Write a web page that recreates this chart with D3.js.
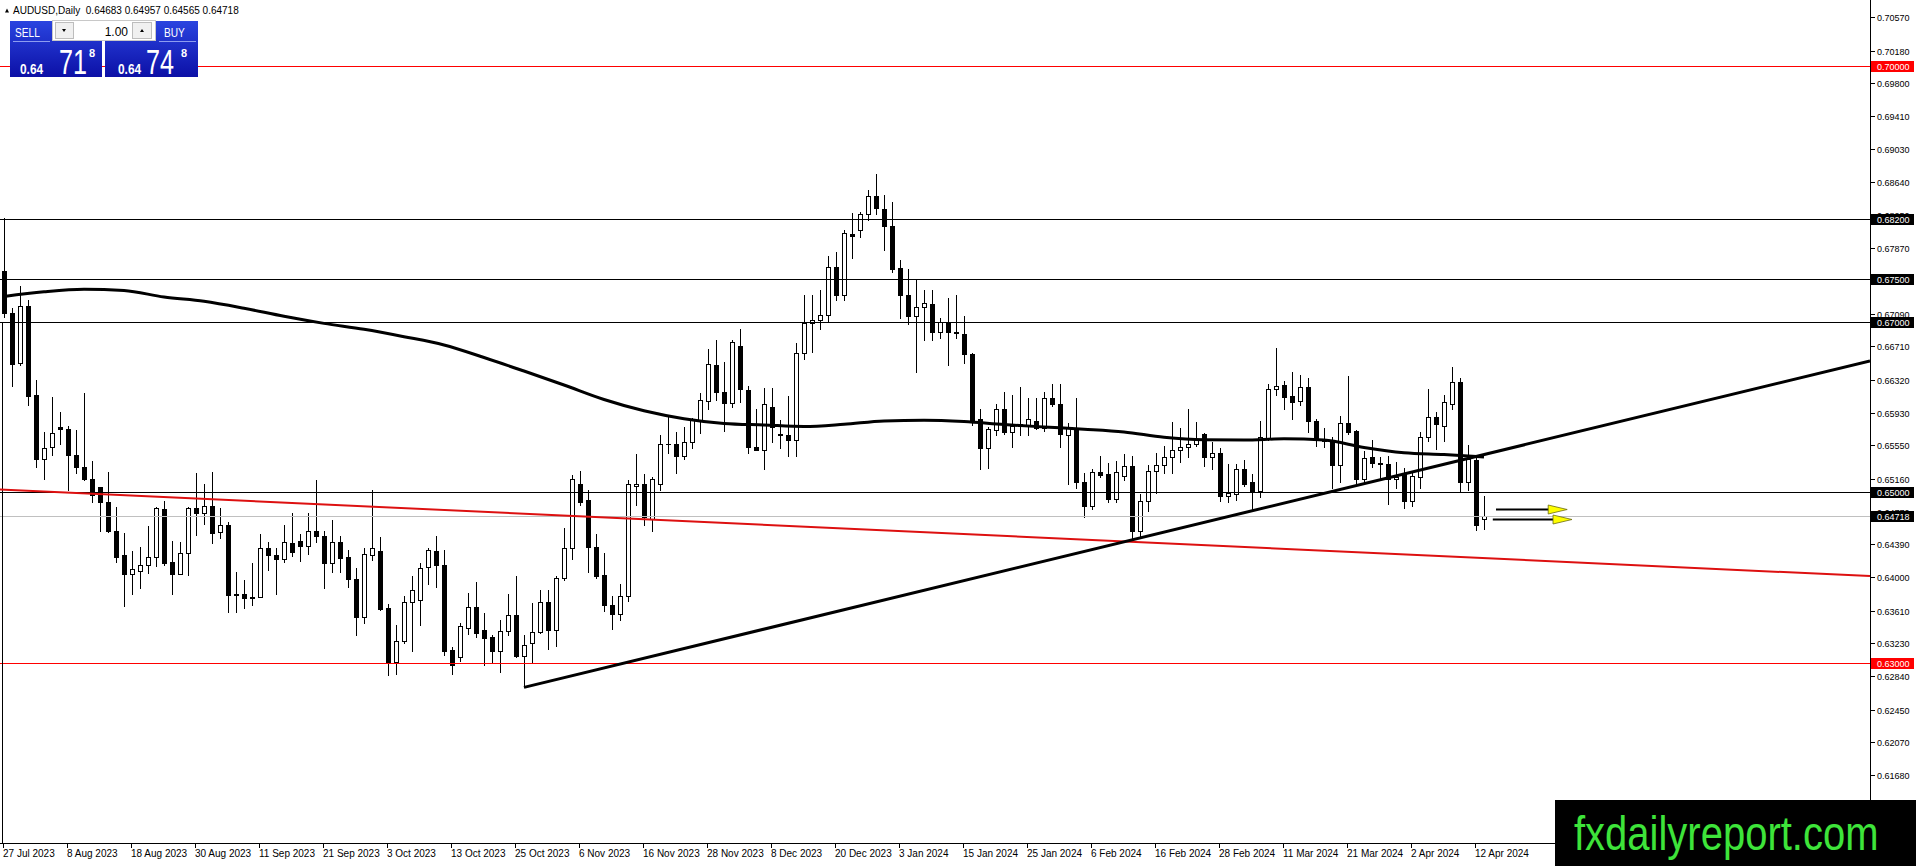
<!DOCTYPE html>
<html>
<head>
<meta charset="utf-8">
<script src="https://cdn.jsdelivr.net/npm/d3@7"></script>
<style>
body { margin: 0; background: #fff; }
svg { display: block; font-family: "Liberation Sans", Arial, sans-serif; }
.axis-text { font-size: 10px; fill: #000; }
.price-text { font-size: 9px; fill: #000; }
.level-text { font-size: 9px; fill: #fff; }
</style>
</head>
<body>
<div id="chart"></div>
<script>
// AUDUSD daily bars, 27 Jul 2023 .. 15 Apr 2024
const opens = [
0.6759,0.6710,0.6652,0.6718,0.6614,0.6539,0.6553,0.6577,0.6574,0.6544,
0.6529,0.6516,0.6506,0.6488,0.6455,0.6426,0.6404,0.6408,0.6414,0.6424,
0.6480,0.6418,0.6404,0.6429,0.6481,0.6476,0.6484,0.6453,0.6461,0.6381,
0.6381,0.6376,0.6377,0.6434,0.6426,0.6422,0.6440,0.6443,0.6437,0.6454,
0.6449,0.6417,0.6442,0.6424,0.6398,0.6353,0.6426,0.6431,0.6364,0.6301,
0.6325,0.6371,0.6373,0.6412,0.6431,0.6415,0.6315,0.6307,0.6341,0.6365,
0.6338,0.6330,0.6314,0.6337,0.6356,0.6308,0.6323,0.6336,0.6371,0.6338,
0.6399,0.6435,0.6510,0.6491,0.6436,0.6403,0.6368,0.6357,0.6378,0.6507,
0.6510,0.6469,0.6510,0.6557,0.6557,0.6543,0.6559,0.6585,0.6607,0.6649,
0.6617,0.6605,0.6672,0.6620,0.6553,0.6550,0.6600,0.6568,0.6567,0.6561,
0.6663,0.6699,0.6702,0.6708,0.6764,0.6731,0.6803,0.6808,0.6826,0.6848,
0.6832,0.6812,0.6763,0.6731,0.6707,0.6717,0.6721,0.6688,0.6700,0.6688,
0.6686,0.6662,0.6586,0.6552,0.6573,0.6597,0.6570,0.6580,0.6579,0.6584,
0.6575,0.6611,0.6604,0.6567,0.6575,0.6512,0.6484,0.6524,0.6521,0.6492,
0.6519,0.6531,0.6454,0.6490,0.6525,0.6532,0.6541,0.6550,0.6553,0.6557,
0.6568,0.6541,0.6546,0.6496,0.6498,0.6527,0.6512,0.6501,0.6564,0.6621,
0.6626,0.6613,0.6607,0.6623,0.6584,0.6560,0.6559,0.6532,0.6581,0.6572,
0.6515,0.6541,0.6534,0.6533,0.6515,0.6523,0.6490,0.6518,0.6565,0.6588,
0.6578,0.6604,0.6629,0.6512,0.6538,0.64683];

const highs = [
0.6822,0.6716,0.6742,0.6725,0.6632,0.6570,0.6612,0.6594,0.6578,0.6573,
0.6616,0.6536,0.6506,0.6524,0.6483,0.6452,0.6431,0.6436,0.6460,0.6483,
0.6490,0.6443,0.6441,0.6483,0.6523,0.6510,0.6524,0.6482,0.6465,0.6406,
0.6397,0.6417,0.6451,0.6442,0.6435,0.6462,0.6475,0.6451,0.6475,0.6514,
0.6454,0.6467,0.6449,0.6432,0.6411,0.6434,0.6503,0.6447,0.6369,0.6344,
0.6378,0.6402,0.6417,0.6435,0.6448,0.6432,0.6318,0.6346,0.6382,0.6395,
0.6358,0.6332,0.6350,0.6381,0.6402,0.6332,0.6370,0.6385,0.6385,0.6402,
0.6458,0.6520,0.6525,0.6503,0.6451,0.6429,0.6378,0.6392,0.6514,0.6545,
0.6521,0.6518,0.6567,0.6591,0.6571,0.6577,0.6587,0.6616,0.6668,0.6679,
0.6653,0.6679,0.6692,0.6624,0.6598,0.6622,0.6622,0.6585,0.6613,0.6675,
0.6731,0.6731,0.6737,0.6777,0.6782,0.6807,0.6828,0.6829,0.6855,0.6873,
0.6849,0.6841,0.6772,0.6762,0.6749,0.6737,0.6737,0.6704,0.6728,0.6731,
0.6707,0.6663,0.6597,0.6576,0.6604,0.6617,0.6614,0.6623,0.6611,0.6611,
0.6618,0.6627,0.6627,0.6581,0.6611,0.6522,0.6527,0.6543,0.6534,0.6536,
0.6545,0.6543,0.6498,0.6532,0.6546,0.6554,0.6582,0.6575,0.6597,0.6582,
0.6569,0.6559,0.6552,0.6533,0.6533,0.6538,0.6521,0.6584,0.6627,0.6669,
0.6630,0.6641,0.6638,0.6634,0.6586,0.6575,0.6565,0.6589,0.6636,0.6573,
0.6548,0.6561,0.6541,0.6542,0.6535,0.6528,0.6524,0.6571,0.6621,0.6594,
0.6614,0.6647,0.6634,0.6555,0.6544,0.64957];

const lows = [
0.6706,0.6624,0.6649,0.6602,0.6529,0.6516,0.6544,0.6557,0.6503,0.6522,
0.6514,0.6488,0.6455,0.6453,0.6418,0.6366,0.6380,0.6388,0.6405,0.6413,
0.6415,0.6381,0.6404,0.6403,0.6450,0.6463,0.6440,0.6446,0.6359,0.6359,
0.6364,0.6368,0.6377,0.6409,0.6381,0.6418,0.6425,0.6419,0.6427,0.6441,
0.6387,0.6406,0.6406,0.6389,0.6333,0.6346,0.6420,0.6362,0.6286,0.6287,
0.6323,0.6314,0.6344,0.6392,0.6389,0.6309,0.6287,0.6302,0.6334,0.6330,
0.6297,0.6299,0.6289,0.6332,0.6307,0.6271,0.6300,0.6335,0.6316,0.6319,
0.6397,0.6421,0.6485,0.6406,0.6399,0.6360,0.6339,0.6350,0.6372,0.6485,
0.6462,0.6455,0.6502,0.6546,0.6523,0.6539,0.6552,0.6569,0.6598,0.6608,
0.6572,0.6600,0.6606,0.6546,0.6549,0.6527,0.6559,0.6552,0.6543,0.6543,
0.6656,0.6665,0.6692,0.6701,0.6726,0.6726,0.6775,0.6799,0.6819,0.6826,
0.6784,0.6758,0.6704,0.6697,0.6641,0.6679,0.6679,0.6681,0.6649,0.6681,
0.6652,0.6579,0.6527,0.6528,0.6567,0.6568,0.6553,0.6567,0.6567,0.6574,
0.6572,0.6601,0.6553,0.6510,0.6505,0.6471,0.6480,0.6518,0.6489,0.6489,
0.6514,0.6444,0.6449,0.6478,0.6499,0.6523,0.6523,0.6535,0.6541,0.6554,
0.6531,0.6527,0.6490,0.6488,0.6491,0.6507,0.6479,0.6494,0.6561,0.6614,
0.6598,0.6586,0.6602,0.6571,0.6554,0.6553,0.6505,0.6512,0.6568,0.6511,
0.6511,0.6530,0.6515,0.6486,0.6505,0.6482,0.6484,0.6505,0.6560,0.6551,
0.6560,0.6598,0.6500,0.6503,0.6456,0.64565];

const closes = [
0.6710,0.6650,0.6718,0.6613,0.6539,0.6552,0.6569,0.6574,0.6544,0.6529,
0.6515,0.6497,0.6488,0.6455,0.6424,0.6404,0.6410,0.6415,0.6424,0.6481,
0.6417,0.6404,0.6429,0.6481,0.6475,0.6484,0.6452,0.6461,0.6379,0.6379,
0.6376,0.6377,0.6434,0.6426,0.6422,0.6441,0.6430,0.6437,0.6454,0.6448,
0.6417,0.6442,0.6423,0.6398,0.6353,0.6427,0.6434,0.6363,0.6301,0.6325,
0.6371,0.6385,0.6411,0.6432,0.6414,0.6314,0.6297,0.6343,0.6365,0.6335,
0.6329,0.6314,0.6337,0.6356,0.6308,0.6321,0.6336,0.6371,0.6338,0.6399,
0.6435,0.6515,0.6489,0.6436,0.6402,0.6368,0.6357,0.6378,0.6509,0.6510,
0.6471,0.6515,0.6557,0.6556,0.6543,0.6559,0.6585,0.6608,0.6650,0.6618,
0.6605,0.6676,0.6621,0.6553,0.6550,0.6603,0.6577,0.6567,0.6561,0.6663,
0.6699,0.6702,0.6708,0.6764,0.6731,0.6804,0.6801,0.6826,0.6847,0.6833,
0.6812,0.6762,0.6731,0.6707,0.6717,0.6722,0.6688,0.6700,0.6688,0.6687,
0.6662,0.6582,0.6552,0.6574,0.6598,0.6570,0.6578,0.6578,0.6586,0.6575,
0.6611,0.6603,0.6568,0.6575,0.6512,0.6484,0.6524,0.6520,0.6492,0.6524,
0.6531,0.6454,0.6490,0.6525,0.6532,0.6541,0.6550,0.6553,0.6557,0.6561,
0.6541,0.6546,0.6496,0.6499,0.6527,0.6510,0.6501,0.6565,0.6621,0.6625,
0.6612,0.6606,0.6623,0.6583,0.6561,0.6562,0.6532,0.6581,0.6571,0.6516,
0.6540,0.6534,0.6533,0.6516,0.6518,0.6490,0.6519,0.6565,0.6588,0.6580,
0.6606,0.6629,0.6512,0.6539,0.6462,0.64718];

// moving average line, read every 5 bars
const maBars = [0,5,10,15,20,25,30,35,40,45,50,55,60,65,70,75,80,85,90,95,
    100,105,110,115,120,125,130,135,140,145,150,155,160,165,170,175,180,185];
const maValues = [0.67296,0.67351,0.67381,0.67366,0.67290,0.67240,0.67158,0.67063,0.66980,0.66911,
    0.66824,0.66727,0.66580,0.66421,0.66257,0.66087,0.65955,0.65862,0.65806,0.65788,
    0.65770,0.65796,0.65835,0.65844,0.65828,0.65793,0.65765,0.65739,0.65706,0.65644,
    0.65615,0.65612,0.65626,0.65612,0.65524,0.65462,0.65441,0.65413];

// x axis labels (every 8th bar)
const dateTickBars = [0,8,16,24,32,40,48,56,64,72,80,88,96,104,112,120,128,136,144,152,160,168,176,184];
const dateTickLabels = ["27 Jul 2023","8 Aug 2023","18 Aug 2023","30 Aug 2023","11 Sep 2023","21 Sep 2023",
    "3 Oct 2023","13 Oct 2023","25 Oct 2023","6 Nov 2023","16 Nov 2023","28 Nov 2023","8 Dec 2023",
    "20 Dec 2023","3 Jan 2024","15 Jan 2024","25 Jan 2024","6 Feb 2024","16 Feb 2024","28 Feb 2024",
    "11 Mar 2024","21 Mar 2024","2 Apr 2024","12 Apr 2024"];

// y axis labels
const priceTicks = [0.70570,0.70180,0.69800,0.69410,0.69030,0.68640,0.68250,0.67870,0.67480,0.67090,
    0.66710,0.66320,0.65930,0.65550,0.65160,0.64770,0.64390,0.64000,0.63610,0.63230,
    0.62840,0.62450,0.62070,0.61680];

// horizontal levels drawn on the chart
const redLevels = [0.70000, 0.63000];
const blackLevels = [0.68200, 0.67500, 0.67000, 0.65000];
const bidPrice = 0.64718;
const askPrice = 0.64748;

// trend lines: [bar, price] anchors
const supportLine = [[65, 0.6271], [141, 0.6444]];
const redTrendLine = [[0, 0.6503], [184, 0.6423]];

// two yellow arrows right of the last bar
const arrowStartBars = [186.5, 186.1];
const arrowEndBars = [195.4, 196.0];
const arrowPrices = [0.6480, 0.6469];

/**
 * Constructor for the MetaTrader style chart
 */
function MetaChart(){
    let self = this;
    self.init();
};

/**
 * Creates svg, scales and the plot frame
 */
MetaChart.prototype.init = function(){
    let self = this;
    self.width = 1916;
    self.height = 866;
    self.plotRight = 1870;
    self.plotBottom = 843;

    self.svg = d3.select("#chart").append("svg")
        .attr("width", self.width)
        .attr("height", self.height);

    self.x = d3.scaleLinear().domain([0, 185]).range([4, 1484]);
    self.y = d3.scaleLinear().domain([0.60884, 0.70774]).range([self.plotBottom, 0]);

    self.svg.append("clipPath").attr("id", "plot-clip")
        .append("rect")
        .attr("x", 0).attr("y", 0)
        .attr("width", self.plotRight).attr("height", self.plotBottom);

    self.plot = self.svg.append("g").attr("clip-path", "url(#plot-clip)");
};

/**
 * Draws the candles
 */
MetaChart.prototype.drawCandles = function(){
    let self = this;
    let bars = d3.range(opens.length);
    let g = self.plot.append("g").attr("shape-rendering", "crispEdges");

    g.selectAll(".wick").data(bars).enter()
        .append("line")
        .attr("x1", d => Math.round(self.x(d)) + 0.5)
        .attr("x2", d => Math.round(self.x(d)) + 0.5)
        .attr("y1", d => Math.round(self.y(highs[d])))
        .attr("y2", d => Math.round(self.y(lows[d])) + 1)
        .attr("stroke", "#000")
        .attr("stroke-width", 1);

    g.selectAll(".body").data(bars).enter()
        .append("rect")
        .attr("x", function(d) {
            let cx = Math.round(self.x(d));
            return closes[d] >= opens[d] ? cx - 1.5 : cx - 2;
        })
        .attr("y", function(d) {
            let top = Math.round(self.y(Math.max(opens[d], closes[d])));
            return closes[d] >= opens[d] ? top + 0.5 : top;
        })
        .attr("width", d => closes[d] >= opens[d] ? 4 : 5)
        .attr("height", function(d) {
            let top = Math.round(self.y(Math.max(opens[d], closes[d])));
            let bottom = Math.round(self.y(Math.min(opens[d], closes[d])));
            return Math.max(closes[d] >= opens[d] ? bottom - top : bottom - top + 1, 1);
        })
        .attr("fill", d => closes[d] >= opens[d] ? "#fff" : "#000")
        .attr("stroke", d => closes[d] >= opens[d] ? "#000" : "none")
        .attr("stroke-width", 1);
};

/**
 * Draws the moving average indicator
 */
MetaChart.prototype.drawIndicator = function(){
    let self = this;
    let line = d3.line()
        .x((d, i) => self.x(maBars[i]))
        .y(d => self.y(d))
        .curve(d3.curveMonotoneX);

    self.plot.append("path")
        .attr("d", line(maValues))
        .attr("fill", "none")
        .attr("stroke", "#000")
        .attr("stroke-width", 3);
};

/**
 * Draws horizontal levels, trend lines and arrows
 */
MetaChart.prototype.drawObjects = function(){
    let self = this;
    let g = self.plot.append("g");

    // current bid line
    g.append("line")
        .attr("x1", 0).attr("x2", self.plotRight)
        .attr("y1", Math.round(self.y(bidPrice)) + 0.5)
        .attr("y2", Math.round(self.y(bidPrice)) + 0.5)
        .attr("stroke", "#c0c0c0").attr("stroke-width", 1);

    g.selectAll(".level-black").data(blackLevels).enter()
        .append("line")
        .attr("x1", 0).attr("x2", self.plotRight)
        .attr("y1", d => Math.round(self.y(d)) + 0.5)
        .attr("y2", d => Math.round(self.y(d)) + 0.5)
        .attr("stroke", "#000").attr("stroke-width", 1);

    g.selectAll(".level-red").data(redLevels).enter()
        .append("line")
        .attr("x1", 0).attr("x2", self.plotRight)
        .attr("y1", d => Math.round(self.y(d)) + 0.5)
        .attr("y2", d => Math.round(self.y(d)) + 0.5)
        .attr("stroke", "#ff0000").attr("stroke-width", 1);

    // left border line
    g.append("line")
        .attr("x1", 2.5).attr("x2", 2.5)
        .attr("y1", Math.round(self.y(blackLevels[2]))).attr("y2", self.plotBottom)
        .attr("stroke", "#000").attr("stroke-width", 1);

    /**
     * Returns the price of a two point trend line at a given bar
     */
    const priceAt = function(anchors, bar) {
        let slope = (anchors[1][1] - anchors[0][1]) / (anchors[1][0] - anchors[0][0]);
        return anchors[0][1] + slope * (bar - anchors[0][0]);
    };

    let barLeft = self.x.invert(0);
    let barRight = self.x.invert(self.plotRight);

    g.append("line")
        .attr("x1", 0)
        .attr("y1", self.y(priceAt(redTrendLine, barLeft)))
        .attr("x2", self.plotRight)
        .attr("y2", self.y(priceAt(redTrendLine, barRight)))
        .attr("stroke", "#dd1010").attr("stroke-width", 2);

    g.append("line")
        .attr("x1", self.x(supportLine[0][0]))
        .attr("y1", self.y(supportLine[0][1]))
        .attr("x2", self.plotRight)
        .attr("y2", self.y(priceAt(supportLine, barRight)))
        .attr("stroke", "#000").attr("stroke-width", 3);

    // arrows
    arrowPrices.forEach(function(p, i) {
        let yy = Math.round(self.y(p)) + 0.5;
        let x0 = self.x(arrowStartBars[i]);
        let x1 = self.x(arrowEndBars[i]);
        g.append("line")
            .attr("x1", x0).attr("x2", x1 - 16)
            .attr("y1", yy).attr("y2", yy)
            .attr("stroke", "#000").attr("stroke-width", 2);
        g.append("polygon")
            .attr("points", x1 + "," + yy + " " + (x1 - 19) + "," + (yy - 4.5) + " " + (x1 - 19) + "," + (yy + 4.5))
            .attr("fill", "#ffff00")
            .attr("stroke", "#6b6b10")
            .attr("stroke-width", 0.8);
    });
};

/**
 * Draws price and date axes with their labels
 */
MetaChart.prototype.drawAxes = function(){
    let self = this;
    let g = self.svg.append("g");

    g.append("line")
        .attr("x1", self.plotRight + 0.5).attr("x2", self.plotRight + 0.5)
        .attr("y1", 0).attr("y2", self.plotBottom + 1)
        .attr("stroke", "#000");
    g.append("line")
        .attr("x1", 0).attr("x2", self.plotRight + 1)
        .attr("y1", self.plotBottom + 0.5).attr("y2", self.plotBottom + 0.5)
        .attr("stroke", "#000");

    // price ticks
    g.selectAll(".ptick").data(priceTicks).enter()
        .append("line")
        .attr("x1", self.plotRight).attr("x2", self.plotRight + 5)
        .attr("y1", d => Math.round(self.y(d)) + 0.5)
        .attr("y2", d => Math.round(self.y(d)) + 0.5)
        .attr("stroke", "#000");
    g.selectAll(".plabel").data(priceTicks).enter()
        .append("text")
        .attr("class", "price-text")
        .attr("x", self.plotRight + 7)
        .attr("y", d => Math.round(self.y(d)) + 3.5)
        .text(d => d.toFixed(5));

    // date ticks
    g.selectAll(".dtick").data(dateTickBars).enter()
        .append("line")
        .attr("x1", d => Math.round(self.x(d)) - 0.5)
        .attr("x2", d => Math.round(self.x(d)) - 0.5)
        .attr("y1", self.plotBottom).attr("y2", self.plotBottom + 5)
        .attr("stroke", "#000");
    g.selectAll(".dlabel").data(dateTickBars).enter()
        .append("text")
        .attr("class", "axis-text")
        .attr("x", d => Math.round(self.x(d)) - 1)
        .attr("y", self.plotBottom + 14)
        .text((d, i) => dateTickLabels[i]);

    // level labels on the price scale
    let levels = blackLevels.map(p => ({p: p, c: "#000"}))
        .concat(redLevels.map(p => ({p: p, c: "#ff0000"})))
        .concat([{p: bidPrice, c: "#000"}]);

    let lg = g.selectAll(".level-label").data(levels).enter().append("g");
    lg.append("rect")
        .attr("x", self.plotRight + 1)
        .attr("y", d => Math.round(self.y(d.p)) - 5)
        .attr("width", 43)
        .attr("height", 11)
        .attr("fill", d => d.c);
    lg.append("text")
        .attr("class", "level-text")
        .attr("x", self.plotRight + 7)
        .attr("y", d => Math.round(self.y(d.p)) + 3.5)
        .text(d => d.p.toFixed(5));
};

/**
 * Draws the symbol header and the one click trading panel
 */
MetaChart.prototype.drawPanel = function(){
    let self = this;
    let last = opens.length - 1;
    let g = self.svg.append("g");

    g.append("polygon").attr("points", "5,12.5 9,12.5 7,8.5").attr("fill", "#000");
    g.append("text")
        .attr("x", 13).attr("y", 14)
        .style("font-size", "10px")
        .attr("xml:space", "preserve")
        .text("AUDUSD,Daily  " + [opens[last], highs[last], lows[last], closes[last]].map(v => v.toFixed(5)).join(" "));

    let defs = self.svg.append("defs");
    let grad = defs.append("linearGradient").attr("id", "blue-grad")
        .attr("x1", 0).attr("y1", 0).attr("x2", 0).attr("y2", 1);
    grad.append("stop").attr("offset", "0%").attr("stop-color", "#2a44e0");
    grad.append("stop").attr("offset", "100%").attr("stop-color", "#0c10a6");

    // price boxes
    g.append("rect").attr("x", 10).attr("y", 21).attr("width", 92).attr("height", 56).attr("fill", "url(#blue-grad)");
    g.append("rect").attr("x", 105).attr("y", 21).attr("width", 93).attr("height", 56).attr("fill", "url(#blue-grad)");

    // lot field
    g.append("rect").attr("x", 52.5).attr("y", 20.5).attr("width", 103).attr("height", 20)
        .attr("fill", "#fff").attr("stroke", "#c8c8c8");
    g.append("rect").attr("x", 55.5).attr("y", 22.5).attr("width", 18).attr("height", 16)
        .attr("fill", "#f0f0f0").attr("stroke", "#bdbdbd");
    g.append("rect").attr("x", 132.5).attr("y", 22.5).attr("width", 19).attr("height", 16)
        .attr("fill", "#f0f0f0").attr("stroke", "#bdbdbd");
    g.append("polygon").attr("points", "62,29 66,29 64,32").attr("fill", "#000");
    g.append("polygon").attr("points", "140,32 144,32 142,29").attr("fill", "#000");
    g.append("text")
        .attr("x", 128).attr("y", 36).attr("text-anchor", "end")
        .style("font-size", "12px").text("1.00");

    // button separators
    g.append("line").attr("x1", 13).attr("x2", 50).attr("y1", 41.5).attr("y2", 41.5)
        .attr("stroke", "#8d9cf0").attr("stroke-width", 1);
    g.append("line").attr("x1", 159).attr("x2", 196).attr("y1", 41.5).attr("y2", 41.5)
        .attr("stroke", "#8d9cf0").attr("stroke-width", 1);

    g.append("text")
        .attr("transform", "translate(15,36.5) scale(0.78,1)")
        .style("font-size", "13px").attr("fill", "#fff").text("SELL");
    g.append("text")
        .attr("transform", "translate(164,36.5) scale(0.78,1)")
        .style("font-size", "13px").attr("fill", "#fff").text("BUY");

    /**
     * Writes a quote split in MetaTrader style: big figure, pips, fraction
     */
    const drawQuote = function(price, x0, x1, x2) {
        let s = price.toFixed(5);
        g.append("text")
            .attr("transform", "translate(" + x0 + ",74) scale(0.85,1)")
            .style("font-size", "14px").style("font-weight", "bold")
            .attr("fill", "#fff").text(s.slice(0, 4));
        g.append("text")
            .attr("transform", "translate(" + x1 + ",74) scale(0.7,1)")
            .style("font-size", "36px")
            .attr("fill", "#fff").text(s.slice(4, 6));
        g.append("text")
            .attr("x", x2).attr("y", 57)
            .style("font-size", "11px").style("font-weight", "bold")
            .attr("fill", "#fff").text(s.slice(6));
    };
    drawQuote(bidPrice, 20, 59, 89);
    drawQuote(askPrice, 118, 146, 181);
};

/**
 * Draws the site watermark in the lower right corner
 */
MetaChart.prototype.drawWatermark = function(){
    let self = this;
    self.svg.append("rect")
        .attr("x", 1555).attr("y", 800)
        .attr("width", self.width - 1555).attr("height", self.height - 800)
        .attr("fill", "#000");
    self.svg.append("text")
        .attr("transform", "translate(1574,850) scale(1,1.2)")
        .style("font-size", "40px")
        .attr("fill", "#3ee43a")
        .text("fxdailyreport.com");
};

let chart = new MetaChart();
chart.drawCandles();
chart.drawIndicator();
chart.drawObjects();
chart.drawAxes();
chart.drawPanel();
chart.drawWatermark();
</script>
</body>
</html>
